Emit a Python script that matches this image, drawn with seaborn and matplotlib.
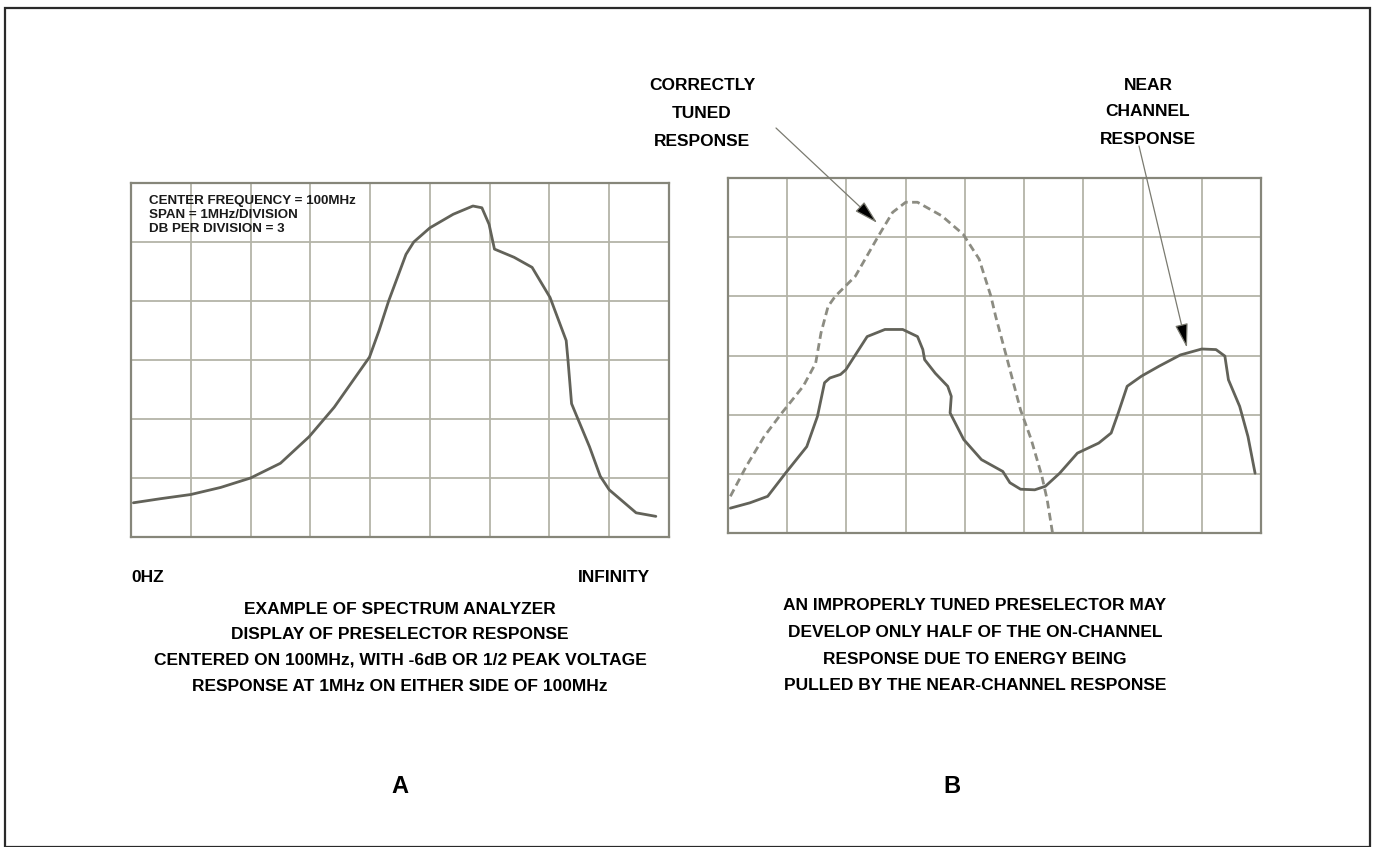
import matplotlib
matplotlib.use("Agg")
import matplotlib.pyplot as plt
import seaborn as sns
import pandas as pd
from matplotlib.patches import Rectangle

# --- data (grid divisions: x 0..9, y 0..6) ---
a_x = [0.04, 0.5, 1.0, 1.5, 2.0, 2.5, 2.98, 3.4, 3.99, 4.15, 4.31, 4.6, 4.73, 5.0, 5.39,
       5.72, 5.87, 5.99, 6.08, 6.41, 6.71, 7.01, 7.28, 7.31, 7.37, 7.46, 7.67, 7.85,
       8.0, 8.45, 8.78]
a_y = [0.58, 0.65, 0.72, 0.84, 1.0, 1.25, 1.70, 2.2, 3.05, 3.5, 4.0, 4.79, 5.0, 5.24, 5.47,
       5.61, 5.58, 5.30, 4.88, 4.74, 4.57, 4.06, 3.33, 3.0, 2.26, 2.04, 1.53, 1.03,
       0.8, 0.41, 0.35]

near_x = [0.04, 0.37, 0.67, 0.97, 1.33, 1.51, 1.63, 1.72, 1.90, 1.99, 2.17, 2.35, 2.65,
          2.95, 3.20, 3.29, 3.32, 3.50, 3.71, 3.77, 3.75, 3.98, 4.28, 4.64, 4.76, 4.94,
          5.18, 5.36, 5.60, 5.90, 6.26, 6.47, 6.59, 6.74, 6.98, 7.28, 7.64, 8.0, 8.24,
          8.39, 8.45, 8.64, 8.78, 8.90]
near_y = [0.42, 0.51, 0.62, 1.01, 1.46, 1.97, 2.54, 2.62, 2.68, 2.76, 3.04, 3.32, 3.44,
          3.44, 3.32, 3.10, 2.93, 2.70, 2.48, 2.31, 2.03, 1.58, 1.24, 1.04, 0.85, 0.74,
          0.73, 0.79, 1.01, 1.35, 1.52, 1.69, 2.03, 2.48, 2.65, 2.82, 3.01, 3.11, 3.10,
          2.99, 2.59, 2.14, 1.63, 1.01]

tuned_x = [0.04, 0.31, 0.61, 0.91, 1.27, 1.48, 1.57, 1.69, 1.81, 2.15, 2.54, 2.78, 3.0,
           3.2, 3.61, 3.97, 4.24, 4.44, 4.52, 4.70, 4.94, 5.12, 5.30, 5.39, 5.48]
tuned_y = [0.62, 1.13, 1.63, 2.03, 2.48, 2.87, 3.38, 3.83, 4.0, 4.34, 5.02, 5.42, 5.59,
           5.59, 5.36, 5.05, 4.63, 4.0, 3.66, 2.99, 2.08, 1.58, 0.96, 0.56, 0.0]

settings_text = ["CENTER FREQUENCY = 100MHz", "SPAN = 1MHz/DIVISION", "DB PER DIVISION = 3"]
caption_a = ["EXAMPLE OF SPECTRUM ANALYZER",
             "DISPLAY OF PRESELECTOR RESPONSE",
             "CENTERED ON 100MHz, WITH -6dB OR 1/2 PEAK VOLTAGE",
             "RESPONSE AT 1MHz ON EITHER SIDE OF 100MHz"]
caption_b = ["AN IMPROPERLY TUNED PRESELECTOR MAY",
             "DEVELOP ONLY HALF OF THE ON-CHANNEL",
             "RESPONSE DUE TO ENERGY BEING",
             "PULLED BY THE NEAR-CHANNEL RESPONSE"]

sns.set_style("white")
plt.rcParams['font.family'] = ['Liberation Sans', 'DejaVu Sans']
plt.rcParams['font.weight'] = 'bold'
plt.rcParams['text.color'] = 'black'

W, H = 1378, 847
fig = plt.figure(figsize=(W / 100, H / 100), dpi=100)

GRID = "#b4b4a8"
SPINE = "#86867a"
CURVE = "#626259"


def px_axes(x0, y0, x1, y1):
    return fig.add_axes([x0 / W, 1 - y1 / H, (x1 - x0) / W, (y1 - y0) / H])


def scope_grid(ax):
    ax.set_xlim(0, 9)
    ax.set_ylim(0, 6)
    ax.set_xticks(range(10))
    ax.set_yticks(range(7))
    ax.grid(True, color=GRID, lw=1.3)
    ax.tick_params(length=0, labelbottom=False, labelleft=False)
    for s in ax.spines.values():
        s.set_color(SPINE)
        s.set_linewidth(1.6)
    ax.set_xlabel("")
    ax.set_ylabel("")


# panel A
ax_a = px_axes(131, 183, 669, 537)
df_a = pd.DataFrame({"x": a_x, "y": a_y})
sns.lineplot(data=df_a, x="x", y="y", ax=ax_a, color=CURVE, lw=2, sort=False,
             solid_joinstyle="round")
scope_grid(ax_a)
for i, t in enumerate(settings_text):
    ax_a.text(0.033, 0.95 - i * 0.04, t, transform=ax_a.transAxes, fontsize=9.6,
              color="#1a1a1a", va="center", ha="left")

# panel B
ax_b = px_axes(728, 178, 1261, 533)
df_near = pd.DataFrame({"x": near_x, "y": near_y})
df_tuned = pd.DataFrame({"x": tuned_x, "y": tuned_y})
sns.lineplot(data=df_tuned, x="x", y="y", ax=ax_b, color="#8c8c82", lw=2, sort=False,
             linestyle=(0, (2.8, 1.6)))
sns.lineplot(data=df_near, x="x", y="y", ax=ax_b, color=CURVE, lw=2, sort=False,
             solid_joinstyle="round")
scope_grid(ax_b)

arrow = dict(arrowstyle="-|>,head_length=1.5,head_width=0.4", facecolor="black",
             edgecolor="#7a7a70", lw=0.9, shrinkA=0, shrinkB=0)
ax_b.annotate("", xy=(2.52, 5.24), xytext=(776 / W, 1 - 128 / H),
              textcoords="figure fraction", arrowprops=arrow)
ax_b.annotate("", xy=(7.75, 3.13), xytext=(1139 / W, 1 - 146 / H),
              textcoords="figure fraction", arrowprops=arrow)

for i, t in enumerate(["CORRECTLY", "TUNED", "RESPONSE"]):
    fig.text(702 / W, 1 - (85 + i * 28) / H, t, ha="center", va="center", fontsize=12.5)
for i, t in enumerate(["NEAR", "CHANNEL", "RESPONSE"]):
    fig.text(1148 / W, 1 - (85 + i * 27) / H, t, ha="center", va="center", fontsize=12.5)

fig.text(131 / W, 1 - 577 / H, "0HZ", ha="left", va="center", fontsize=12.5)
fig.text(650 / W, 1 - 577 / H, "INFINITY", ha="right", va="center", fontsize=12.5)

for i, t in enumerate(caption_a):
    fig.text(400 / W, 1 - (609 + i * 25.7) / H, t, ha="center", va="center", fontsize=12.5)
for i, t in enumerate(caption_b):
    fig.text(975 / W, 1 - (605 + i * 27) / H, t, ha="center", va="center", fontsize=12.5)

fig.text(400 / W, 1 - 786 / H, "A", ha="center", va="center", fontsize=17)
fig.text(952 / W, 1 - 786 / H, "B", ha="center", va="center", fontsize=17)

# outer frame
fig.patches.append(Rectangle((5 / W, 0), (1370 - 5) / W, 1 - 8 / H, transform=fig.transFigure,
                             fill=False, edgecolor="#2a2a2a", lw=1.6))

fig.savefig("out.png", dpi=100, facecolor="white")
